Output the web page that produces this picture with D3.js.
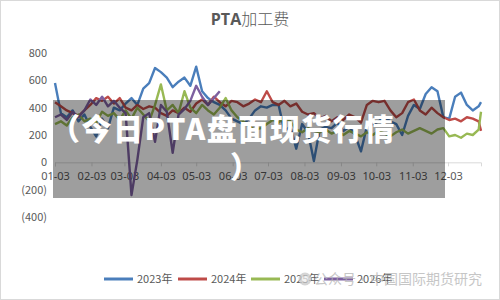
<!DOCTYPE html>
<html>
<head>
<meta charset="utf-8">
<script src="https://cdn.jsdelivr.net/npm/d3@7"></script>
<style>
  body { margin: 0; background: #fff; }
  text { font-family: "Noto Sans CJK SC", "Noto Sans", sans-serif; }
</style>
</head>
<body>
<svg id="viz"></svg>
<script>
var width = 500;
var height = 300;

// dates (every 5 days), month tick labels
var dates = ["01-03","01-08","01-13","01-18","01-23","01-28","02-02","02-07","02-12","02-17","02-22","02-27",
  "03-04","03-09","03-14","03-19","03-24","03-29","04-03","04-08","04-13","04-18","04-23","04-28",
  "05-03","05-08","05-13","05-18","05-23","05-28","06-02","06-07","06-12","06-17","06-22","06-27",
  "07-02","07-07","07-12","07-17","07-22","07-27","08-01","08-06","08-11","08-16","08-21","08-26","08-31",
  "09-05","09-10","09-15","09-20","09-25","09-30","10-05","10-10","10-15","10-20","10-25","10-30",
  "11-04","11-09","11-14","11-19","11-24","11-29","12-04","12-09","12-14","12-19","12-24","12-29","12-31"];
var monthTicks = ["01-03","02-03","03-03","04-03","05-03","06-03","07-03","08-03","09-03","10-03","11-03","12-03"];
var yTicks = [800, 600, 400, 200, 0, -200, -400];

var names = ["2023年", "2024年", "2025年", "2026年"];
var colors = ["#4a7ebb", "#be4b48", "#98b954", "#7d60a0"];

var v2023 = [580,360,330,380,300,350,260,190,320,250,400,380,430,470,420,540,580,690,660,620,550,590,620,560,
  700,520,470,440,420,380,320,300,280,320,380,410,400,420,420,230,260,100,280,220,10,240,260,250,290,
  230,260,200,80,260,280,300,330,300,280,200,340,420,390,500,550,520,330,320,480,510,420,380,410,440];
var v2024 = [440,410,380,360,340,380,420,470,450,480,430,470,400,380,420,390,410,400,360,340,380,360,400,370,
  430,460,420,480,440,410,450,440,410,430,460,440,520,440,420,450,410,430,370,350,360,320,340,300,330,
  310,350,330,290,420,450,440,450,380,330,360,440,460,380,350,400,360,330,310,320,300,330,320,300,230];
var v2025 = [280,300,270,330,350,300,320,290,370,340,360,310,380,320,400,350,300,420,570,380,420,360,520,400,
  360,420,380,350,400,470,380,330,300,260,240,250,280,310,290,330,300,240,220,250,230,220,240,210,230,
  200,230,210,190,220,200,230,210,190,220,240,210,230,250,230,210,240,250,190,200,180,210,200,240,370];
var v2026 = [330,350,310,370,330,380,460,420,480,410,450,400,360,-240,20,330,360,150,420,370,70,350,390,450,
  560,480,420,470,520];

var series = [v2023, v2024, v2025, v2026];

var parse = d3.timeParse("%Y-%m-%d");
function toDate(s) { return parse("2023-" + s); }

var x = d3.scaleTime()
    .domain([toDate("01-03"), toDate("12-31")])
    .range([55, 481]);

var y = d3.scaleLinear()
    .domain([-400, 800])
    .range([217, 53]);

var svg = d3.select("#viz").attr("width", width).attr("height", height);

// outer frame
svg.append("rect")
    .attr("x", 0.5).attr("y", 0.5)
    .attr("width", width - 1).attr("height", height - 1)
    .attr("fill", "#fff")
    .attr("stroke", "#d9d9d9");

// title
var title = svg.append("text")
    .attr("x", 250).attr("y", 25)
    .attr("text-anchor", "middle")
    .attr("fill", "#595959")
    .style("font-size", "16px");
title.append("tspan").attr("font-weight", 700).style("font-family", "'Open Sans', sans-serif").text("PTA");
title.append("tspan").attr("font-weight", 300).text("加工费");

// y labels
svg.append("g").selectAll("text")
    .data(yTicks)
    .enter()
    .append("text")
    .attr("x", 47)
    .attr("y", function(d) { return y(d); })
    .attr("dy", "0.35em")
    .attr("text-anchor", "end")
    .attr("fill", "#595959")
    .style("font-size", "11px")
    .text(function(d) { return d < 0 ? "(" + (-d) + ")" : d; });

// x axis at zero
var xAxis = d3.axisBottom(x)
    .tickValues(monthTicks.map(toDate))
    .tickFormat(d3.timeFormat("%m-%d"))
    .tickSize(4)
    .tickPadding(6);

var gx = svg.append("g")
    .attr("transform", "translate(0," + y(0) + ")")
    .call(xAxis);
gx.select(".domain").attr("stroke", "#d9d9d9");
gx.selectAll(".tick line").attr("stroke", "#d9d9d9");
gx.selectAll(".tick text")
    .attr("fill", "#595959")
    .style("font-size", "11px")
    .style("font-family", "'Noto Sans', sans-serif");

// lines
var line = d3.line()
    .x(function(d, i) { return x(toDate(dates[i])); })
    .y(function(d) { return y(d); });

svg.append("g").selectAll("path")
    .data(series)
    .enter()
    .append("path")
    .attr("d", function(d) { return line(d); })
    .attr("fill", "none")
    .attr("stroke", function(d, i) { return colors[i]; })
    .attr("stroke-width", 2.4)
    .attr("stroke-linejoin", "round");

// legend
var legend = svg.append("g").selectAll("g")
    .data(names)
    .enter()
    .append("g")
    .attr("transform", function(d, i) { return "translate(" + [104, 178, 251, 324][i] + ",279)"; });
legend.append("line")
    .attr("x1", 0).attr("x2", 29)
    .attr("stroke", function(d, i) { return colors[i]; })
    .attr("stroke-width", 3);
legend.append("text")
    .attr("x", 33).attr("dy", "0.35em")
    .attr("fill", "#595959")
    .style("font-size", "11px")
    .text(function(d) { return d; });

// watermark
var wm = svg.append("g").attr("opacity", 0.75);
wm.append("circle").attr("cx", 305).attr("cy", 279).attr("r", 6.5).attr("fill", "#c8c8c8");
wm.append("circle").attr("cx", 305).attr("cy", 279).attr("r", 3).attr("fill", "#eee");
wm.append("text")
    .attr("x", 314).attr("y", 279).attr("dy", "0.35em")
    .attr("fill", "#b4b4b4")
    .style("font-size", "14px")
    .text("公众号·中国国际期货研究");

// overlay banner
svg.append("rect")
    .attr("x", 53).attr("y", 100)
    .attr("width", 392).attr("height", 98)
    .attr("fill", "rgba(0,0,0,0.38)");

svg.append("text")
    .attr("x", 50).attr("y", 140)
    .attr("fill", "#fff")
    .attr("font-weight", 900)
    .style("font-size", "30px")
    .style("letter-spacing", "1.5px")
    .text("（今日PTA盘面现货行情");
svg.append("text")
    .attr("x", 230).attr("y", 178)
    .attr("fill", "#fff")
    .attr("font-weight", 900)
    .style("font-size", "30px")
    .text("）");
</script>
</body>
</html>
